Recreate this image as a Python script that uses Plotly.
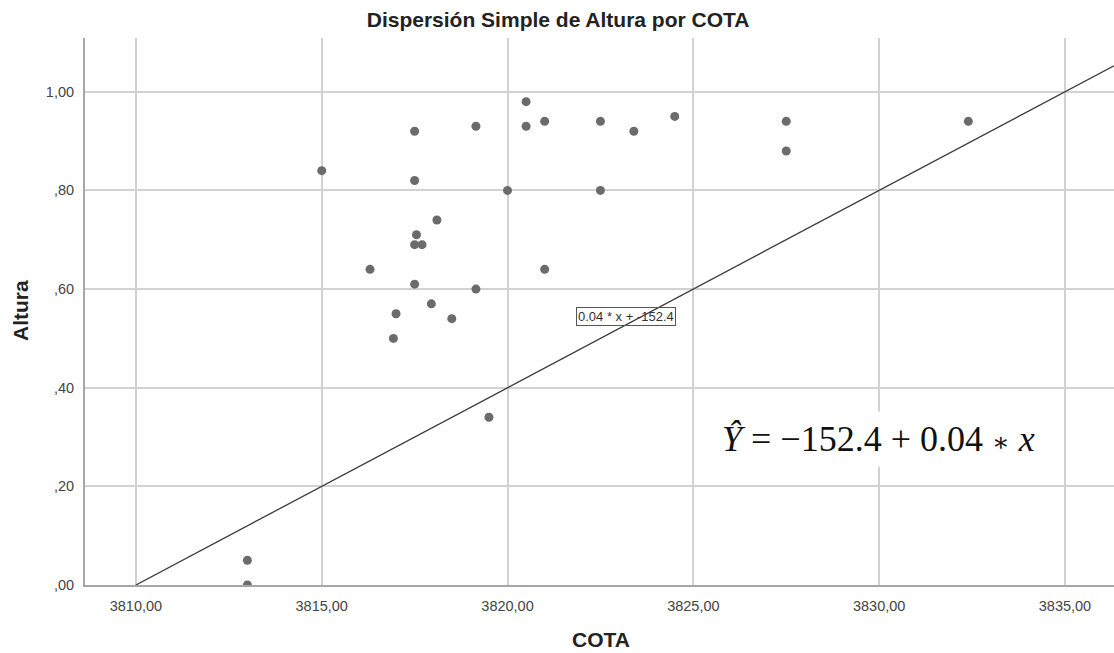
import plotly.graph_objects as go

# Observed COTA / Altura pairs
cota = [3820.5, 3819.15, 3820.5, 3821.0, 3817.5, 3815.0, 3817.5, 3820.0,
        3818.1, 3817.55, 3817.5, 3817.7, 3816.3, 3821.0, 3817.5, 3819.15,
        3817.95, 3817.0, 3818.5, 3816.93, 3819.5, 3822.5, 3823.4, 3824.5,
        3822.5, 3827.5, 3827.5, 3832.4, 3813.0, 3813.0]
altura = [0.98, 0.93, 0.93, 0.94, 0.92, 0.84, 0.82, 0.80,
          0.74, 0.71, 0.69, 0.69, 0.64, 0.64, 0.61, 0.60,
          0.57, 0.55, 0.54, 0.50, 0.34, 0.94, 0.92, 0.95,
          0.80, 0.94, 0.88, 0.94, 0.05, 0.00]

# Fitted line: Altura = slope * COTA + intercept
slope = 0.04
intercept = -152.4

x_ticks = [3810, 3815, 3820, 3825, 3830, 3835]
x_ticktext = ["3810,00", "3815,00", "3820,00", "3825,00", "3830,00", "3835,00"]
y_ticks = [0.0, 0.2, 0.4, 0.6, 0.8, 1.0]
y_ticktext = [",00", ",20", ",40", ",60", ",80", "1,00"]

x_range = [3808.63, 3836.32]
y_range = [0.0, 1.109]

line_x = [-intercept / slope, x_range[1]]
line_y = [slope * v + intercept for v in line_x]

SANS = "Liberation Sans, Arial"
SERIF = "Liberation Serif, Times New Roman, serif"

fig = go.Figure()

fig.add_trace(go.Scatter(
    x=line_x, y=line_y, mode="lines",
    line=dict(color="#3a3a3a", width=1.3),
    hoverinfo="skip", showlegend=False,
))

fig.add_trace(go.Scatter(
    x=cota, y=altura, mode="markers",
    marker=dict(color="#6b6b6b", size=9, line=dict(width=0)),
    showlegend=False,
))

# Inline label of the fit line
fig.add_annotation(
    x=3823.19, y=0.545, xref="x", yref="y",
    text=f"{slope} * x + {intercept}",
    showarrow=False,
    font=dict(family=SANS, size=13, color="#333333"),
    bordercolor="#555555", borderwidth=1, borderpad=1,
)

# Regression equation
fig.add_annotation(
    x=3829.97, y=0.296, xref="x", yref="y",
    text=(f"<i>Ŷ</i> = −{abs(intercept)} + {slope} "
          f"<span style='font-family:DejaVu Serif;font-size:26px'>∗</span> <i>x</i>"),
    showarrow=False,
    font=dict(family=SERIF, size=36, color="#111111"),
    bgcolor="white", borderpad=7,
)

plot_w = 1114 - 85
plot_h = 653 - 38 - 68

# Axis titles
fig.add_annotation(
    x=(601 - 85) / plot_w, y=-(639 - 585) / plot_h, xref="paper", yref="paper",
    text="<b>COTA</b>", showarrow=False,
    xanchor="center", yanchor="middle",
    font=dict(family=SANS, size=21, color="#222222"),
)
fig.add_annotation(
    x=(20 - 85) / plot_w, y=(585 - 311) / plot_h, xref="paper", yref="paper",
    text="<b>Altura</b>", showarrow=False, textangle=-90,
    xanchor="center", yanchor="middle",
    font=dict(family=SANS, size=21, color="#222222"),
)

fig.update_layout(
    width=1114, height=653,
    margin=dict(l=85, r=0, t=38, b=68),
    paper_bgcolor="white", plot_bgcolor="white",
    title=dict(
        text="<b>Dispersión Simple de Altura por COTA</b>",
        x=0.501, xref="container", xanchor="center",
        y=1 - 20 / 653, yref="container", yanchor="middle",
        font=dict(family=SANS, size=21, color="#222222"),
    ),
    font=dict(family=SANS, color="#444444"),
)

fig.update_xaxes(
    range=x_range, tickvals=x_ticks, ticktext=x_ticktext,
    showgrid=True, gridcolor="#d2d2d2", gridwidth=1.5,
    showline=True, linecolor="#a6a6a6", linewidth=2,
    zeroline=False, ticks="", ticklabelstandoff=7,
    tickfont=dict(size=14.5, color="#444444"),
)
fig.update_yaxes(
    range=y_range, tickvals=y_ticks, ticktext=y_ticktext,
    showgrid=True, gridcolor="#d2d2d2", gridwidth=1.5,
    showline=True, linecolor="#a6a6a6", linewidth=2,
    zeroline=False, ticks="", ticklabelstandoff=6,
    tickfont=dict(size=14.5, color="#444444"),
)

fig.write_html("out.html")
